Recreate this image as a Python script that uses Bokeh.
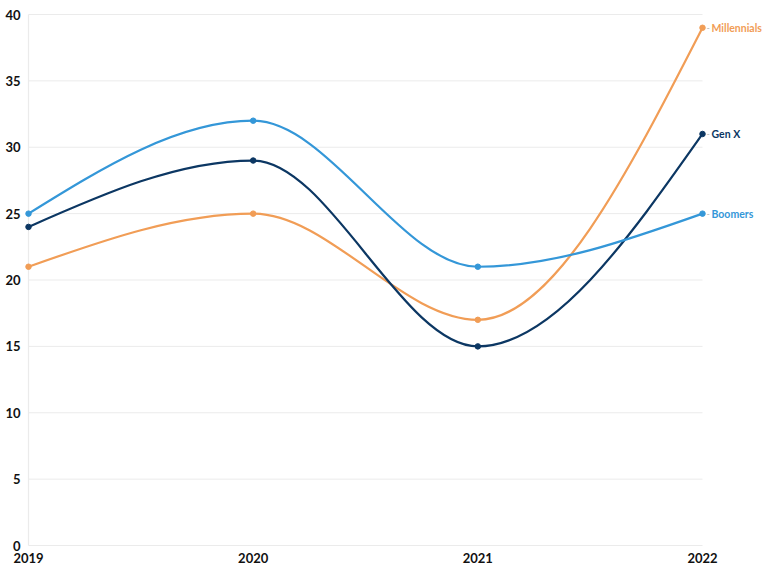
import numpy as np
from bokeh.plotting import figure
from bokeh.models import Range1d, ColumnDataSource
from bokeh.core.properties import value
from bokeh.embed import file_html
from bokeh.resources import INLINE

years = [2019, 2020, 2021, 2022]
millennials = [21, 25, 17, 39]
genx = [24, 29, 15, 31]
boomers = [25, 32, 21, 25]
series_names = ["Millennials", "Gen X", "Boomers"]
series_values = [millennials, genx, boomers]
series_colors = ["#f19d56", "#0c3763", "#3497d8"]
y_ticks = [0, 5, 10, 15, 20, 25, 30, 35, 40]
x_labels = ["2019", "2020", "2021", "2022"]

FONT = "Lato"
GRID = "#ebebeb"
LABEL = "#111111"

# pixel layout: 2019 at x=28, 2022 at x=702; 40 at y=14, 0 at y=545
PX_PER_YEAR = (702 - 28) / (years[-1] - years[0])
x_lo = years[0] - 28 / PX_PER_YEAR
x_hi = years[-1] + 66 / PX_PER_YEAR
PX_PER_UNIT = (545 - 14) / (y_ticks[-1] - y_ticks[0])
y_lo = y_ticks[0] - 31 / PX_PER_UNIT
y_hi = y_ticks[-1] + 14 / PX_PER_UNIT


def monotone_tangents(x, y):
    x = np.asarray(x, float)
    y = np.asarray(y, float)
    n = len(x)
    t = np.zeros(n)
    for i in range(1, n - 1):
        h0 = x[i] - x[i - 1]
        h1 = x[i + 1] - x[i]
        s0 = (y[i] - y[i - 1]) / h0
        s1 = (y[i + 1] - y[i]) / h1
        p = (s0 * h1 + s1 * h0) / (h0 + h1)
        t[i] = (np.sign(s0) + np.sign(s1)) * min(abs(s0), abs(s1), 0.5 * abs(p))
    h = x[1] - x[0]
    t[0] = (3 * (y[1] - y[0]) / h - t[1]) / 2
    h = x[-1] - x[-2]
    t[-1] = (3 * (y[-1] - y[-2]) / h - t[-2]) / 2
    return t


p = figure(width=768, height=576, output_backend="svg", toolbar_location=None,
           x_range=Range1d(x_lo, x_hi), y_range=Range1d(y_lo, y_hi),
           min_border=0)
p.outline_line_color = None
p.background_fill_color = "white"
p.border_fill_color = "white"
p.xgrid.visible = False
p.ygrid.visible = False
p.xaxis.visible = False
p.yaxis.visible = False

# horizontal grid lines from 2019 to 2022
p.segment(x0=[years[0]] * len(y_ticks), x1=[years[-1]] * len(y_ticks),
          y0=y_ticks, y1=y_ticks, line_color=GRID, line_width=1)
# left vertical line at 2019
p.segment(x0=[years[0]], x1=[years[0]], y0=[y_ticks[0]], y1=[y_ticks[-1]],
          line_color=GRID, line_width=1.2)

# y tick labels
p.text(x=[years[0]] * len(y_ticks), y=y_ticks, text=[str(v) for v in y_ticks],
       x_offset=-8, text_align="right", text_baseline="middle",
       text_color=LABEL, text_font=value(FONT), text_font_style="bold",
       text_font_size="13px")
# x tick labels
p.text(x=years, y=[y_ticks[0]] * len(years), text=x_labels,
       y_offset=7, text_align="center", text_baseline="top",
       text_color=LABEL, text_font=value(FONT), text_font_style="bold",
       text_font_size="13px")

for name, vals, col in zip(series_names, series_values, series_colors):
    xs = np.asarray(years, float)
    ys = np.asarray(vals, float)
    t = monotone_tangents(xs, ys)
    dx = (xs[1:] - xs[:-1]) / 3
    src = ColumnDataSource(dict(
        x0=xs[:-1], y0=ys[:-1], x1=xs[1:], y1=ys[1:],
        cx0=xs[:-1] + dx, cy0=ys[:-1] + dx * t[:-1],
        cx1=xs[1:] - dx, cy1=ys[1:] - dx * t[1:]))
    p.bezier(x0="x0", y0="y0", x1="x1", y1="y1", cx0="cx0", cy0="cy0",
             cx1="cx1", cy1="cy1", source=src, line_color=col, line_width=2.2)
    p.scatter(years, vals, size=5.5, color=col)
    p.text(x=[years[-1]], y=[vals[-1]], text=["-"], x_offset=4,
           text_baseline="middle", text_align="left", text_color="#b5b5b5",
           text_font=value(FONT), text_font_size="9px")
    p.text(x=[years[-1]], y=[vals[-1]], text=[name], x_offset=9,
           text_baseline="middle", text_align="left", text_color=col,
           text_font=value(FONT), text_font_style="bold", text_font_size="10.5px")

open("out.html", "w").write(file_html(p, INLINE))
